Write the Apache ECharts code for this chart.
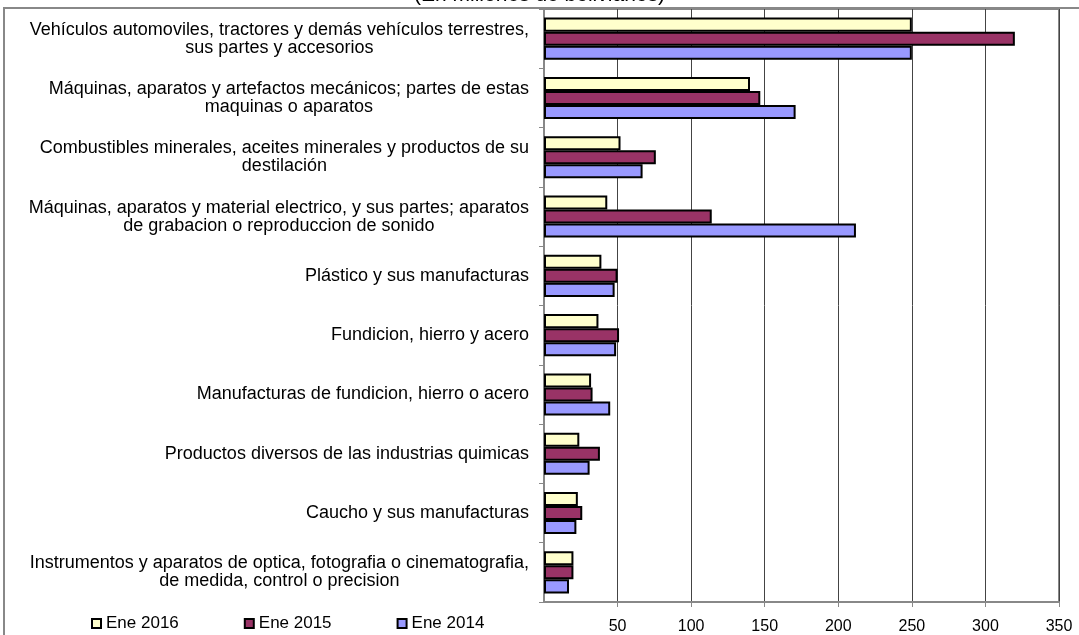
<!DOCTYPE html>
<html>
<head>
<meta charset="utf-8">
<script src="https://cdn.jsdelivr.net/npm/echarts@6.0.0/dist/echarts.min.js"></script>
<style>
  html, body { margin: 0; padding: 0; background: #fff; }
  #container { width: 1079px; height: 635px; }
</style>
</head>
<body>
<div id="container"></div>
<script>
var categories = [
    'Vehículos automoviles, tractores y demás vehículos terrestres,\nsus partes y accesorios',
    'Máquinas, aparatos y artefactos mecánicos; partes de estas\nmaquinas o aparatos',
    'Combustibles minerales, aceites minerales y productos de su\ndestilación',
    'Máquinas, aparatos y material electrico, y sus partes; aparatos\nde grabacion o reproduccion de sonido',
    'Plástico y sus manufacturas',
    'Fundicion, hierro y acero',
    'Manufacturas de fundicion, hierro o acero',
    'Productos diversos de las industrias quimicas',
    'Caucho y sus manufacturas',
    'Instrumentos y aparatos de optica, fotografia o cinematografia,\nde medida, control o precision'
]
var seriesNames = ['Ene 2016', 'Ene 2015', 'Ene 2014']
var ene2016 = [250, 140, 52, 43, 39, 37, 32, 24, 23, 20]
var ene2015 = [320, 147, 76, 114, 50, 51, 33, 38, 26, 20]
var ene2014 = [250, 171, 67, 212, 48, 49, 45, 31, 22, 17]
var colors = ['#FFFFCC', '#993366', '#9999FF']

var font = '"Liberation Sans", Arial, sans-serif'

var dom = document.getElementById('container')
var myChart = echarts.init(dom)

function makeSeries(name, data, color){
    return {
        name: name,
        type: 'bar',
        data: data,
        barGap: '0%',
        barCategoryGap: '29%',
        itemStyle: {
            color: color,
            borderColor: '#000',
            borderWidth: 2
        }
    }
}

var option = {
    backgroundColor: '#fff',
    animation: false,
    title: {
        text: '(En millones de bolivianos)',
        left: 'center',
        top: -20,
        textStyle: { fontFamily: font, fontSize: 21, fontWeight: 'normal', color: '#000' }
    },
    legend: {
        data: seriesNames,
        left: 86,
        top: 610,
        icon: 'rect',
        itemWidth: 9,
        itemHeight: 9,
        itemGap: 65,
        textStyle: { fontFamily: font, fontSize: 17, color: '#000' }
    },
    grid: {
        left: 544,
        right: 20,
        top: 9,
        bottom: 32,
        show: true,
        borderColor: '#888',
        borderWidth: 2
    },
    xAxis: {
        type: 'value',
        min: 0,
        max: 350,
        interval: 50,
        axisLine: { show: true, lineStyle: { color: '#888', width: 2 } },
        axisTick: { show: true, length: 5, lineStyle: { color: '#888' } },
        axisLabel: {
            showMinLabel: false,
            fontFamily: font,
            fontSize: 16,
            color: '#000',
            margin: 17
        },
        splitLine: { show: true, lineStyle: { color: '#444', width: 1 } }
    },
    yAxis: {
        type: 'category',
        inverse: true,
        data: categories,
        axisLine: { show: true, lineStyle: { color: '#888', width: 2 } },
        axisTick: { show: true, length: 5, lineStyle: { color: '#888' } },
        axisLabel: {
            margin: 15,
            formatter: function(v){
                return v.split('\n').map(function(s){ return '{c|' + s + '}' }).join('\n')
            },
            rich: {
                c: { align: 'center', fontFamily: font, fontSize: 18, lineHeight: 18, color: '#000' }
            }
        }
    },
    graphic: [{
        type: 'rect',
        shape: { x: 4, y: 8, width: 1300, height: 800 },
        style: { fill: 'none', stroke: '#888', lineWidth: 2 },
        silent: true,
        z: -1
    }],
    series: [
        makeSeries(seriesNames[0], ene2016, colors[0]),
        makeSeries(seriesNames[1], ene2015, colors[1]),
        makeSeries(seriesNames[2], ene2014, colors[2])
    ]
}

myChart.setOption(option, true)
</script>
</body>
</html>
